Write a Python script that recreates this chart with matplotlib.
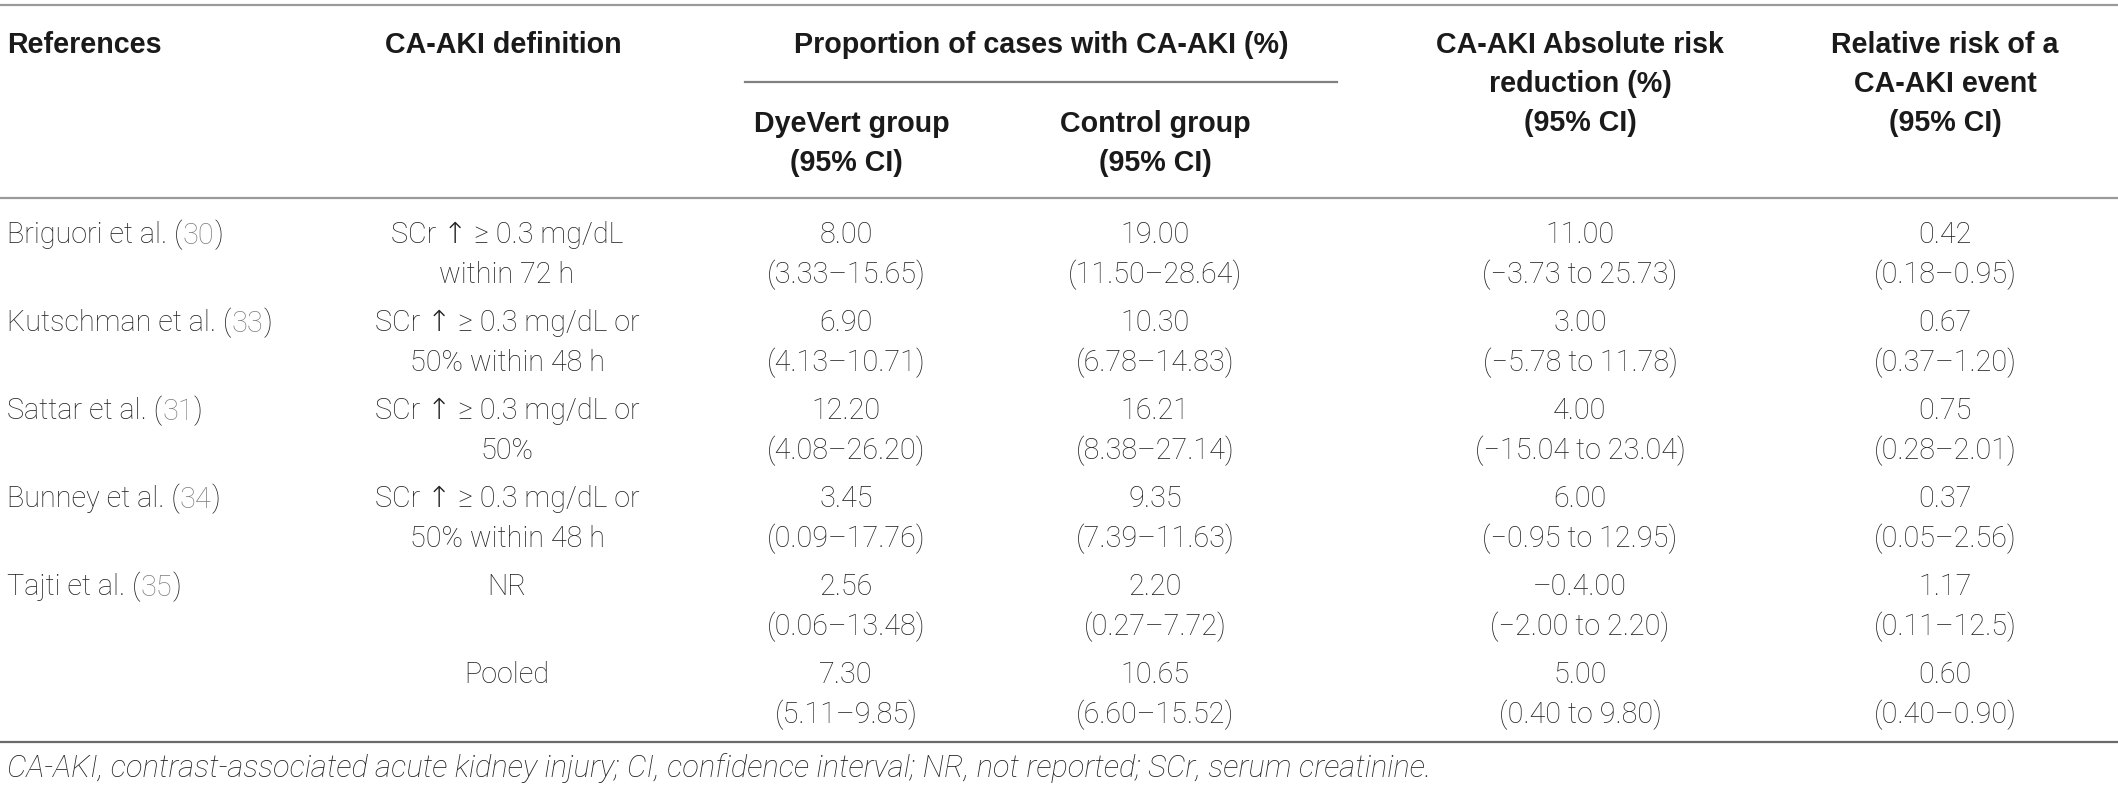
import matplotlib
matplotlib.use('Agg')
import matplotlib.pyplot as plt

# table content
references = ['Briguori et al.', 'Kutschman et al.', 'Sattar et al.', 'Bunney et al.', 'Tajti et al.', '']
citations = ['30', '33', '31', '34', '35', '']
definitions = [
    ['SCr \u2191 \u2265 0.3 mg/dL', 'within 72 h'],
    ['SCr \u2191 \u2265 0.3 mg/dL or', '50% within 48 h'],
    ['SCr \u2191 \u2265 0.3 mg/dL or', '50%'],
    ['SCr \u2191 \u2265 0.3 mg/dL or', '50% within 48 h'],
    ['NR', ''],
    ['Pooled', ''],
]
dyevert = ['8.00', '6.90', '12.20', '3.45', '2.56', '7.30']
dyevert_ci = ['3.33\u201315.65', '4.13\u201310.71', '4.08\u201326.20', '0.09\u201317.76', '0.06\u201313.48', '5.11\u20139.85']
control = ['19.00', '10.30', '16.21', '9.35', '2.20', '10.65']
control_ci = ['11.50\u201328.64', '6.78\u201314.83', '8.38\u201327.14', '7.39\u201311.63', '0.27\u20137.72', '6.60\u201315.52']
abs_risk = ['11.00', '3.00', '4.00', '6.00', '\u20130.4.00', '5.00']
abs_risk_ci = ['\u22123.73 to 25.73', '\u22125.78 to 11.78', '\u221215.04 to 23.04', '\u22120.95 to 12.95',
               '\u22122.00 to 2.20', '0.40 to 9.80']
rel_risk = ['0.42', '0.67', '0.75', '0.37', '1.17', '0.60']
rel_risk_ci = ['0.18\u20130.95', '0.37\u20131.20', '0.28\u20132.01', '0.05\u20132.56', '0.11\u201312.5', '0.40\u20130.90']

footnote = ('CA-AKI, contrast-associated acute kidney injury; CI, confidence interval; '
            'NR, not reported; SCr, serum creatinine.')

W, H = 2118, 790
fig = plt.figure(figsize=(W / 100, H / 100), dpi=100)
ax = fig.add_axes([0, 0, 1, 1])
ax.set_xlim(0, W)
ax.set_ylim(H, 0)
ax.axis('off')

body = dict(family=['Roboto', 'DejaVu Sans'], weight='light', fontsize=20.7, color='#222222')
head = dict(family=['Liberation Sans', 'DejaVu Sans'], weight='bold', fontsize=20.6, color='#1a1a1a')

col_x = [7, 507, 846, 1155, 1580, 1945]

# rules
ax.plot([0, W], [5, 5], color='#9a9a9a', lw=1.6)
ax.plot([745, 1337], [82, 82], color='#808080', lw=1.6)
ax.plot([0, W], [198, 198], color='#9a9a9a', lw=1.6)
ax.plot([0, W], [742, 742], color='#6a6a6a', lw=1.6)

# header
ax.text(col_x[0], 45, 'References', ha='left', va='center', **head)
ax.text(503, 45, 'CA-AKI definition', ha='center', va='center', **head)
ax.text(1041, 45, 'Proportion of cases with CA-AKI (%)', ha='center', va='center', **head)
ax.text(852, 124, 'DyeVert group', ha='center', va='center', **head)
ax.text(col_x[2], 163, '(95% CI)', ha='center', va='center', **head)
ax.text(col_x[3], 124, 'Control group', ha='center', va='center', **head)
ax.text(col_x[3], 163, '(95% CI)', ha='center', va='center', **head)
for i, s in enumerate(['CA-AKI Absolute risk', 'reduction (%)', '(95% CI)']):
    ax.text(col_x[4], 45 + 39 * i, s, ha='center', va='center', **head)
for i, s in enumerate(['Relative risk of a', 'CA-AKI event', '(95% CI)']):
    ax.text(col_x[5], 45 + 39 * i, s, ha='center', va='center', **head)

# body rows
row0, pitch, gap = 235, 88, 40
for r in range(len(dyevert)):
    y1 = row0 + pitch * r
    y2 = y1 + gap
    if references[r]:
        t = ax.text(col_x[0], y1 + 8, references[r] + ' (', ha='left', va='baseline', **body)
        t2 = ax.annotate(citations[r], xy=(1, 0), xycoords=t, ha='left', va='bottom',
                         **{**body, 'color': '#808080'})
        ax.annotate(')', xy=(1, 0), xycoords=t2, ha='left', va='bottom', **body)
    d1, d2 = definitions[r]
    ax.text(col_x[1], y1, d1, ha='center', va='center', **body)
    if d2:
        ax.text(col_x[1], y2, d2, ha='center', va='center', **body)
    vals = [(dyevert, dyevert_ci), (control, control_ci), (abs_risk, abs_risk_ci), (rel_risk, rel_risk_ci)]
    for c, (v, ci) in enumerate(vals):
        ax.text(col_x[c + 2], y1, v[r], ha='center', va='center', **body)
        ax.text(col_x[c + 2], y2, '(' + ci[r] + ')', ha='center', va='center', **body)

ax.text(7, 768, footnote, ha='left', va='center', style='italic',
        **{**body, 'fontsize': 22.2})

fig.savefig('out.png', dpi=100)
